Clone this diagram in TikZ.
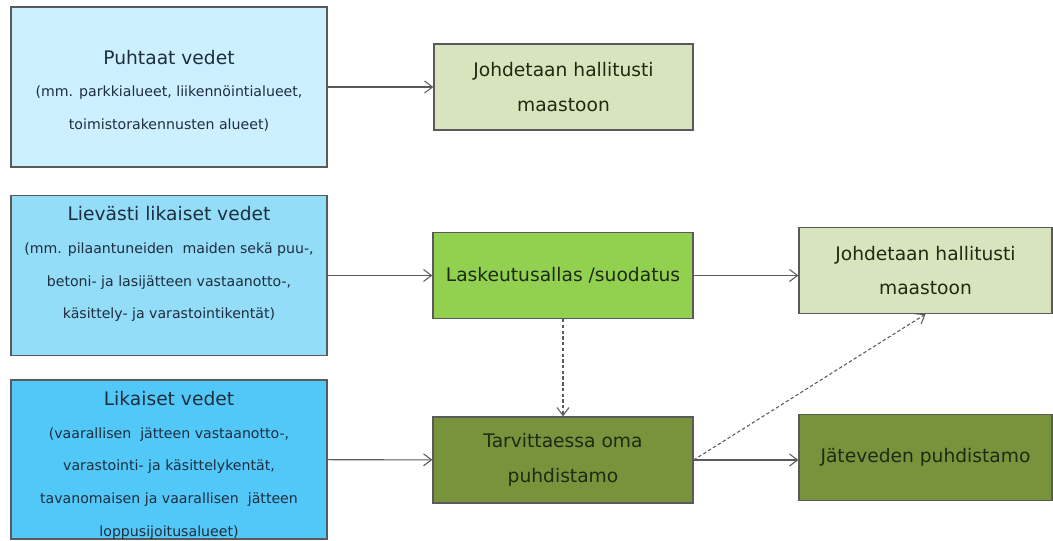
\documentclass[tikz,border=0pt]{standalone}
\usepackage{fontspec}
\setmainfont{DejaVu Sans}
\usetikzlibrary{arrows.meta}
\definecolor{vesi1}{HTML}{CCF0FF}
\definecolor{vesi2}{HTML}{93DDF8}
\definecolor{vesi3}{HTML}{52C8F8}
\definecolor{vihrea1}{HTML}{D7E4BD}
\definecolor{vihrea2}{HTML}{92D050}
\definecolor{vihrea3}{HTML}{77933C}
\definecolor{reuna}{HTML}{5A5A5A}
\definecolor{tumma}{HTML}{1E2E3E}
\definecolor{tummavihr}{HTML}{1F2A12}
\newcommand{\otsikko}[2][0pt]{{\fontsize{14pt}{16pt}\selectfont\rule{0pt}{#1}#2}}
\tikzset{
  laatikko/.style={draw=reuna, line width=0.9pt, rectangle, inner sep=0pt,
    align=center, text=tumma, minimum width=316*0.75pt, minimum height=160*0.75pt,
    font=\fontsize{10.6pt}{24.5pt}\selectfont},
  kasittely/.style={draw=reuna, line width=0.9pt, rectangle, inner sep=0pt,
    align=center, text=tummavihr, minimum width=259*0.75pt, minimum height=86*0.75pt,
    font=\fontsize{14pt}{26pt}\selectfont},
  nuoli/.style={draw=reuna, line width=0.8pt, -{Straight Barb[length=6pt,width=9pt]}},
  katko/.style={nuoli, dash pattern=on 2.5pt off 1.8pt}
}
\begin{document}
\begin{tikzpicture}[x=0.75pt,y=-0.75pt]
  \useasboundingbox (0,0) rectangle (1053,540);

  % vesityypit
  \node[laatikko, fill=vesi1] (puhtaat) at (169,87)
    {\otsikko[16pt]{Puhtaat vedet}\\(mm. parkkialueet, liikennöintialueet,\\toimistorakennusten alueet)};
  \node[laatikko, fill=vesi2, text depth=19pt] (lievasti) at (169,275.5)
    {\otsikko{Lievästi likaiset vedet}\\(mm. pilaantuneiden\ \ maiden sekä puu-,\\betoni- ja lasijätteen vastaanotto-,\\käsittely- ja varastointikentät)};
  \node[laatikko, fill=vesi3, minimum height=159*0.75pt] (likaiset) at (169,459.5)
    {\otsikko[19pt]{Likaiset vedet}\\(vaarallisen\ \ jätteen vastaanotto-,\\varastointi- ja käsittelykentät,\\tavanomaisen ja vaarallisen\ \ jätteen\\loppusijoitusalueet)};

  % kasittely
  \node[kasittely, fill=vihrea1] (maasto1) at (563.5,87) {Johdetaan hallitusti\\maastoon};
  \node[kasittely, fill=vihrea2, minimum width=260*0.75pt] (allas) at (563,275.5) {Laskeutusallas /suodatus};
  \node[kasittely, fill=vihrea3, minimum width=260*0.75pt] (oma) at (563,460) {Tarvittaessa oma\\puhdistamo};
  \node[kasittely, fill=vihrea1, minimum width=253*0.75pt] (maasto2) at (925.5,270.5) {Johdetaan hallitusti\\maastoon};
  \node[kasittely, fill=vihrea3, minimum width=253*0.75pt] (jatevesi) at (925.5,457.5) {Jäteveden puhdistamo};

  \draw[nuoli] (puhtaat) -- (maasto1);
  \draw[nuoli] (lievasti) -- (allas);
  \draw[nuoli] (likaiset) -- (oma);
  \draw[nuoli] (allas.east) -- (allas.east -| maasto2.west);
  \draw[nuoli] (oma.east) -- (oma.east -| jatevesi.west);
  \draw[katko] (allas) -- (oma);
  \draw[katko] (oma.east) -- (maasto2.south);
\end{tikzpicture}
\end{document}
